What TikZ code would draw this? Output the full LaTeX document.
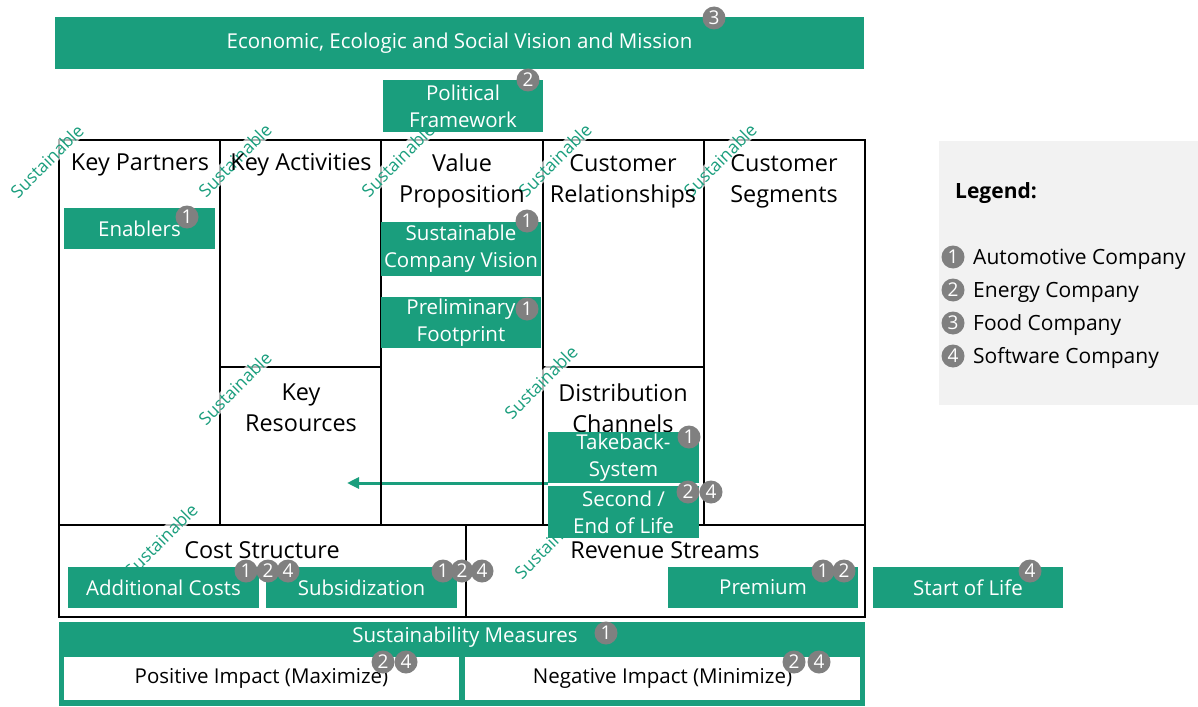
\documentclass[tikz,border=0pt]{standalone}
\usepackage{fontspec}
\setmainfont{Open Sans}
\usetikzlibrary{arrows.meta}

\definecolor{bmcgreen}{RGB}{26,158,125}
\definecolor{badgegray}{RGB}{128,128,128}
\definecolor{legendgray}{RGB}{242,242,242}

\tikzset{
	greenbox/.style={fill=bmcgreen, text=white, inner sep=0pt, align=center,
		font=\fontsize{20.5}{27}\selectfont},
	whitebox/.style={fill=white, inner sep=0pt, align=center,
		font=\fontsize{20.5}{27}\selectfont},
	badge/.style={circle, fill=badgegray, text=white, inner sep=0pt,
		minimum size=23pt, font=\fontsize{19}{19}\selectfont},
	sust/.style={rotate=45, text=bmcgreen, fill=white, fill opacity=.7,
		text opacity=1, inner sep=1pt, font=\fontsize{17.5}{17.5}\selectfont},
	header/.style={align=center, font=\fontsize{23.4}{31}\selectfont},
	legendtext/.style={anchor=west, inner sep=0pt, font=\fontsize{21}{21}\selectfont}
}

\begin{document}
\begin{tikzpicture}[x=1pt, y=-1pt]
		\useasboundingbox (0,0) rectangle (1198,706);
		
		% legend background
		\fill[legendgray] (939,141) rectangle (1198,405);
		
		% arrow from take back system
		\coordinate (arrowtip) at (347,483);
		\draw[bmcgreen, line width=3pt, -{Triangle[length=12pt, width=11pt]}] (548,483) -- (arrowtip);
		
		% canvas
		\begin{scope}[line width=1.5pt]
			\draw (59,140) rectangle (865,525);
			\foreach \x in {220,381,543,704} {
				\draw (\x,140) -- (\x,525);
			}
			\draw (220,367) -- (381,367);
			\draw (543,367) -- (704,367);
			\draw (59,525) rectangle (865,617);
			\draw (466,525) -- (466,617);
		\end{scope}
		
		% sustainable marks
		\foreach \px/\py [count=\i] in {47/161, 235/160, 398/160, 555/160, 720/160,
			235/388, 541/382, 161/540, 551/542} {
			\node[sust] (sust\i) at (\px,\py) {Sustainable};
		}
		
		% building blocks
		\node[header] (partners) at (140,165) {Key Partners};
		\node[header] (activities) at (301,165) {Key Activities};
		\node[header] (value) at (462,181) {Value\\Proposition};
		\node[header] (relations) at (623,181) {Customer\\Relationships};
		\node[header] (segments) at (784,181) {Customer\\Segments};
		\node[header] (resources) at (301,408) {Key\\Resources};
		\node[header] (channels) at (623,408) {Distribution\\Channels};
		\node[header] (costs) at (262,550) {Cost Structure};
		\node[header] (revenue) at (665,550) {Revenue Streams};
		
		% extensions
		\node[greenbox, minimum width=809pt, minimum height=52pt] (vision) at (459.5,43)
			{Economic, Ecologic and Social Vision and Mission};
		\node[greenbox, minimum width=160pt, minimum height=52pt] (political) at (463,106)
			{Political\\Framework};
		\node[greenbox, minimum width=151pt, minimum height=41pt] (enablers) at (139.5,228.5)
			{Enablers};
		\node[greenbox, minimum width=160pt, minimum height=54pt] (companyvision) at (461,249)
			{Sustainable\\Company Vision};
		\node[greenbox, minimum width=160pt, minimum height=51pt] (footprint) at (461,322.5)
			{Preliminary\\Footprint};
		\node[greenbox, minimum width=151pt, minimum height=51pt] (takeback) at (623.5,457.5)
			{Takeback-\\System};
		\node[greenbox, minimum width=151pt, minimum height=52pt] (endoflife) at (623.5,512)
			{Second /\\End of Life};
		\node[greenbox, minimum width=191pt, minimum height=41pt] (addcosts) at (163.5,587.5)
			{Additional Costs};
		\node[greenbox, minimum width=191pt, minimum height=41pt] (subsidization) at (361.5,587.5)
			{Subsidization};
		\node[greenbox, minimum width=190pt, minimum height=41pt] (premium) at (763,587.5)
			{Premium};
		\node[greenbox, minimum width=190pt, minimum height=41pt] (startoflife) at (968,587.5)
			{Start of Life};
		
		% sustainability measures
		\node[greenbox, minimum width=806pt, minimum height=84pt] (measures) at (462,664) {};
		\node[text=white, font=\fontsize{20.5}{20.5}\selectfont] (measurestitle) at (465,637)
			{Sustainability Measures};
		\node[whitebox, minimum width=395pt, minimum height=43pt] (positive) at (261.5,678.5)
			{Positive Impact (Maximize)};
		\node[whitebox, minimum width=395pt, minimum height=43pt] (negative) at (662.5,678.5)
			{Negative Impact (Minimize)};
		
		% company badges
		\foreach \n/\px/\py [count=\i] in {3/714/18, 2/528/80, 1/187/217, 1/527/221,
			1/527/309, 1/689/437, 2/688/492, 4/711/492, 1/246/571, 2/268/571,
			4/288/571, 1/443/571, 2/462/571, 4/482/571, 1/823/571, 2/844/571,
			4/1030/571, 1/606/633, 2/383/662, 4/406/662, 2/794/662, 4/819/662} {
			\node[badge] (badge\i) at (\px,\py) {\n};
		}
		
		% legend
		\node[anchor=west, inner sep=0pt, font=\bfseries\fontsize{21}{21}\selectfont] (legend)
			at (955,193) {Legend:};
		\foreach \n/\company [count=\i] in {1/Automotive Company, 2/Energy Company,
			3/Food Company, 4/Software Company} {
			\node[badge] (legendbadge\i) at (953,224+33*\i) {\n};
			\node[legendtext] (legendtext\i) at (973,226+33*\i) {\company};
		}
	\end{tikzpicture}
\end{document}
